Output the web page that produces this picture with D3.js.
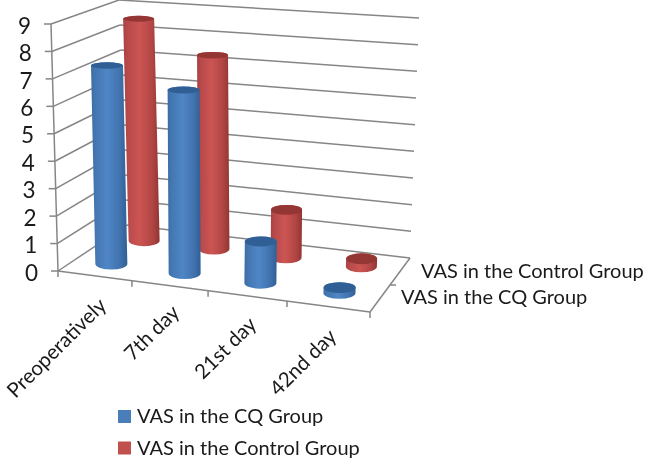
<!DOCTYPE html>
<html><head><meta charset="utf-8">
<script src="https://cdn.jsdelivr.net/npm/d3@7"></script>
<style>html,body{margin:0;padding:0;background:#fff}svg{display:block;filter:blur(.35px)}text{font-family:Lato,"Open Sans",sans-serif;fill:#1a1a1a}</style>
</head><body><svg id="c" width="646" height="461"></svg>
<script>
const categories = ["Preoperatively","7th day","21st day","42nd day"];
const seriesNames = ["VAS in the CQ Group","VAS in the Control Group"];
const cqValues = [7.35, 6.7, 1.5, 0.2];
const controlValues = [8.6, 7.4, 1.8, 0.3];
const valueTicks = [0,1,2,3,4,5,6,7,8,9];
const colors = ["#4a7ebb","#c0504d"];

const svg = d3.select("#c");
// corner scales of the 3D box
const v = d3.scaleLinear().domain([0,9]);
const flx=v.copy().range([58,51]), fly=v.copy().range([271,24]);
const blx=v.copy().range([127,119]), bly=v.copy().range([225,0]);
const frx=v.copy().range([370,379]), fry=v.copy().range([312,51]);
const brx=v.copy().range([410,419]), bry=v.copy().range([258,18]);
const catFrac = d3.scaleLinear().domain([0,1,2,3,4]).range([0,.237,.481,.734,1]);
function P(c,s,val){
  const t=catFrac(c);
  const fx=flx(val)+(frx(val)-flx(val))*t, fy=fly(val)+(fry(val)-fly(val))*t;
  const bx=blx(val)+(brx(val)-blx(val))*t, by=bly(val)+(bry(val)-bly(val))*t;
  return [fx+(bx-fx)*s, fy+(by-fy)*s];
}
const grid="#868686";
function seg(a,b,w){svg.append("line").attr("x1",a[0]).attr("y1",a[1]).attr("x2",b[0]).attr("y2",b[1]).attr("stroke",grid).attr("stroke-width",w||1.5);}

// walls
valueTicks.forEach(d=>{
  seg(P(0,0,d),P(0,1,d));
  seg(P(0,1,d),P(4,1,d));
  const a=P(0,0,d);
  seg([a[0]-7,a[1]],a);
  svg.append("text").attr("x",a[0]-20).attr("y",a[1]+4).attr("text-anchor","end")
    .attr("dominant-baseline","middle").attr("font-size",22.5).text(d);
});
seg(P(0,0,0),P(0,0,9));
seg(P(0,0,0),P(4,0,0));
seg(P(4,0,0),P(4,1,0));
[0,1,2,3,4].forEach(c=>{const a=P(c,0,0);seg(a,[a[0],a[1]+6]);});
const m=P(4,.5,0);seg(m,[m[0]+6,m[1]]);

// gradients
const defs=svg.append("defs");
function grad(id,st){const g=defs.append("linearGradient").attr("id",id);
  st.forEach(([o,c])=>g.append("stop").attr("offset",o).attr("stop-color",c));}
grad("gb",[[0,"#3c6ca5"],[.12,"#4477b2"],[.45,"#4f86c6"],[.8,"#4072ad"],[1,"#315f95"]]);
grad("gr",[[0,"#a84240"],[.12,"#b8494a"],[.45,"#cc5553"],[.8,"#b04543"],[1,"#933533"]]);

const rxS=[16,15.5], depth=[.25,.75];
const ry=d3.scaleLinear().domain([0,9]).range([5.5,2.8]);
function bar(c,si,val){
  const g=svg.append("g"), rx=rxS[si];
  const b=P(c+.5,depth[si],0), t=P(c+.5,depth[si],val);
  const r0=ry(0), r1=ry(val);
  g.append("path").attr("fill",`url(#${si?"gr":"gb"})`).attr("d",
   `M${t[0]-rx},${t[1]}L${b[0]-rx},${b[1]}A${rx},${r0} 0 0 0 ${b[0]+rx},${b[1]}L${t[0]+rx},${t[1]}A${rx},${r1} 0 0 0 ${t[0]-rx},${t[1]}Z`);
  g.append("ellipse").attr("cx",t[0]).attr("cy",t[1]).attr("rx",rx).attr("ry",r1)
   .attr("fill",si?"#943634":"#2f5f94");
}
categories.forEach((_,i)=>{bar(i,1,controlValues[i]);bar(i,0,cqValues[i]);});

// category labels
const labelEnd=[[104,303],[177,310],[254,322],[334,334]];
categories.forEach((d,i)=>{
  svg.append("text").attr("transform",`translate(${labelEnd[i][0]},${labelEnd[i][1]}) rotate(-45)`)
   .attr("text-anchor","end").attr("dominant-baseline","middle").attr("font-size",20.5).text(d);
});
// series labels
svg.append("text").attr("x",421).attr("y",278).attr("font-size",20).text(seriesNames[1]);
svg.append("text").attr("x",401).attr("y",304).attr("font-size",20).text(seriesNames[0]);
// legend
seriesNames.forEach((d,i)=>{
  const y=410+i*31.5;
  svg.append("rect").attr("x",118).attr("y",y).attr("width",13).attr("height",13).attr("fill",colors[i]);
  svg.append("text").attr("x",137).attr("y",y+13).attr("font-size",20).text(d);
});
</script></body></html>
